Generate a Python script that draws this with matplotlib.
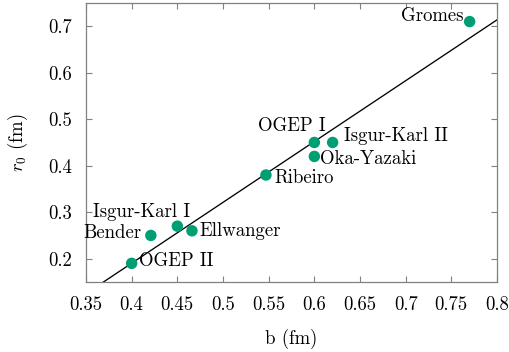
import numpy as np
import matplotlib
matplotlib.use("Agg")
import matplotlib.pyplot as plt
from matplotlib.ticker import FuncFormatter, MultipleLocator

plt.rcParams['font.family'] = 'serif'
plt.rcParams['font.serif'] = ['cmr10', 'DejaVu Serif']
plt.rcParams['mathtext.fontset'] = 'cm'
plt.rcParams['axes.formatter.use_mathtext'] = True

names = ["Gromes", "OGEP I", "Isgur-Karl II", "Oka-Yazaki", "Ribeiro",
         "Isgur-Karl I", "Ellwanger", "Bender", "OGEP II"]
b_vals = [0.77, 0.60, 0.62, 0.60, 0.547, 0.45, 0.466, 0.421, 0.40]
r0_vals = [0.71, 0.45, 0.45, 0.42, 0.38, 0.27, 0.26, 0.25, 0.19]

# label placement (offset in pixels, horizontal alignment)
label_offsets = [(-6, 6, 'right'), (11, 16, 'right'), (11, 6, 'left'),
                 (6, -3, 'left'), (8, -3, 'left'), (13, 14, 'right'),
                 (7, 0, 'left'), (-9, 2, 'right'), (7, 2, 'left')]

green = '#009e73'
grey = '#808080'
fs = 13.5

fig = plt.figure(figsize=(5.10, 3.52), dpi=100)
ax = fig.add_axes([0.1686, 0.199, 0.806, 0.7925])

slope, intercept = np.polyfit(b_vals, r0_vals, 1)
xl = np.linspace(0.35, 0.8, 200)
ax.plot(xl, slope * xl + intercept, color='black', lw=0.95, zorder=2)

ax.scatter(b_vals, r0_vals, s=68, color=green, edgecolors='none', zorder=3)

for name, x, y, (dx, dy, ha) in zip(names, b_vals, r0_vals, label_offsets):
    ax.annotate(name, (x, y), xytext=(dx, dy), textcoords='offset pixels',
                ha=ha, va='center', fontsize=fs, color='black', zorder=4)

ax.set_xlim(0.35, 0.8)
ax.set_ylim(0.15, 0.75)
ax.xaxis.set_major_locator(MultipleLocator(0.05))
ax.yaxis.set_major_locator(MultipleLocator(0.1))
fmt = FuncFormatter(lambda v, p: ('%.2f' % v).rstrip('0').rstrip('.') if abs(v) > 1e-9 else '0')
ax.xaxis.set_major_formatter(fmt)
ax.yaxis.set_major_formatter(fmt)

for s in ax.spines.values():
    s.set_color(grey)
    s.set_linewidth(0.9)
ax.tick_params(direction='in', top=True, right=True, length=4.5, width=0.8,
               color=grey, labelsize=fs, pad=10)

ax.set_xlabel('b (fm)', fontsize=fs, labelpad=11)
ax.set_ylabel(r'$r_0$ (fm)', fontsize=fs, labelpad=13)

fig.savefig('out.png', dpi=100)
